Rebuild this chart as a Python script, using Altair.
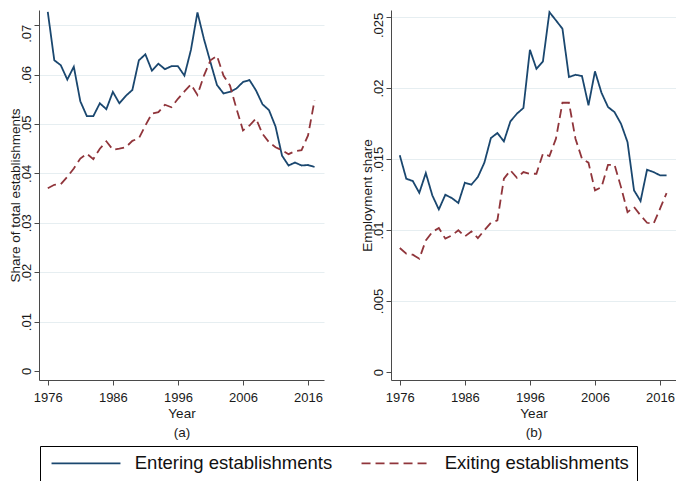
import altair as alt
import pandas as pd

# Anos da serie
years = list(range(1976, 2018))

# (a) participacao no total de estabelecimentos
entering_estab = [0.0727, 0.0629, 0.0619, 0.0590, 0.0616, 0.0546, 0.0516, 0.0516, 0.0542, 0.0530,
                  0.0565, 0.0542, 0.0557, 0.0569, 0.0629, 0.0641, 0.0608, 0.0622, 0.0611, 0.0617,
                  0.0617, 0.0598, 0.0650, 0.0726, 0.0672, 0.0625, 0.0579, 0.0562, 0.0565, 0.0572,
                  0.0585, 0.0589, 0.0568, 0.0540, 0.0528, 0.0495, 0.0436, 0.0416, 0.0422, 0.0416,
                  0.0417, 0.0413]
exiting_estab = [0.0370, 0.0377, 0.0378, 0.0393, 0.0410, 0.0430, 0.0440, 0.0429, 0.0450, 0.0465,
                 0.0448, 0.0450, 0.0453, 0.0466, 0.0471, 0.0497, 0.0521, 0.0524, 0.0539, 0.0534,
                 0.0551, 0.0566, 0.0580, 0.0559, 0.0598, 0.0629, 0.0638, 0.0598, 0.0578, 0.0531,
                 0.0487, 0.0497, 0.0511, 0.0480, 0.0463, 0.0453, 0.0447, 0.0439, 0.0445, 0.0447,
                 0.0477, 0.0548]

# (b) participacao no emprego
entering_emp = [0.01526, 0.01361, 0.01345, 0.01262, 0.01401, 0.01244, 0.01145, 0.01248, 0.01225, 0.01190,
                0.01333, 0.01319, 0.01373, 0.01474, 0.01647, 0.01683, 0.01624, 0.01765, 0.01819, 0.01859,
                0.02269, 0.02135, 0.02187, 0.02534, 0.02476, 0.02417, 0.02077, 0.02093, 0.02084, 0.01878,
                0.02117, 0.01966, 0.01866, 0.01830, 0.01748, 0.01619, 0.01279, 0.01204, 0.01424, 0.01408,
                0.01385, 0.01385]
exiting_emp = [0.00873, 0.00833, 0.00826, 0.00798, 0.00927, 0.00986, 0.01014, 0.00939, 0.00962, 0.00998,
               0.00955, 0.00990, 0.00943, 0.00998, 0.01051, 0.01068, 0.01361, 0.01420, 0.01368, 0.01408,
               0.01396, 0.01396, 0.01537, 0.01521, 0.01643, 0.01896, 0.01896, 0.01643, 0.01502, 0.01474,
               0.01279, 0.01302, 0.01459, 0.01459, 0.01302, 0.01126, 0.01162, 0.01103, 0.01051, 0.01044,
               0.01150, 0.01260]

x_ticks = [1976, 1986, 1996, 2006, 2016]
y_ticks_a = [0, 0.01, 0.02, 0.03, 0.04, 0.05, 0.06, 0.07]
y_ticks_b = [0, 0.005, 0.01, 0.015, 0.02, 0.025]

series_names = ["Entering establishments", "Exiting establishments"]
series_colors = ["#1a476f", "#90353b"]
series_dash = [[1, 0], [9, 5]]

FONTE = "Liberation Sans"
COR_EIXO = "#4a4a4a"


def tabela(entering, exiting):
    return pd.DataFrame({
        "Year": years * 2,
        "value": entering + exiting,
        "series": [series_names[0]] * len(years) + [series_names[1]] * len(years),
    })


# Legenda unica em caixa, embaixo (simbolo = traco horizontal longo)
legenda = alt.Legend(title=None, orient="none", legendX=1, legendY=436,
                     direction="horizontal", strokeColor="black", padding=8,
                     symbolType="M-6,0H6", symbolSize=132, symbolStrokeWidth=1.8,
                     symbolOffset=28.75,
                     labelFontSize=18.5, labelFont=FONTE, labelColor="#111111",
                     labelOffset=39.5, columnPadding=24, labelLimit=400)


def painel(df, titulo_y, dominio_y, ticks_y, letra, topo):
    return alt.Chart(df).mark_line(strokeWidth=1.8, strokeCap="butt").encode(
        x=alt.X("Year:Q",
                scale=alt.Scale(domain=[1974.65, 2018.45], nice=False, zero=False),
                axis=alt.Axis(values=x_ticks, format="d", title=["Year", letra],
                              grid=False, titleLineHeight=19, labelPadding=6,
                              titlePadding=2)),
        y=alt.Y("value:Q",
                scale=alt.Scale(domain=dominio_y, nice=False, zero=False),
                axis=alt.Axis(values=ticks_y, title=titulo_y, labelAngle=270,
                              labelAlign="center", labelBaseline="bottom",
                              labelExpr="datum.value == 0 ? '0' : substring(format(datum.value, '.3~f'), 1)",
                              # rotulo do topo desce um pouco para caber na pagina
                              labelOffset={"condition": {"test": f"datum.value == {topo}", "value": 8}, "value": 0},
                              gridOpacity={"condition": {"test": "datum.value == 0", "value": 0}, "value": 1},
                              labelPadding=1, titlePadding=-2)),
        color=alt.Color("series:N", scale=alt.Scale(domain=series_names, range=series_colors),
                        legend=legenda),
        strokeDash=alt.StrokeDash("series:N", scale=alt.Scale(domain=series_names, range=series_dash),
                                  legend=legenda),
    ).properties(width=285, height=370)


painel_a = painel(tabela(entering_estab, exiting_estab), "Share of total establishments",
                  [-0.00182, 0.07308], y_ticks_a, "(a)", 0.07)
painel_b = painel(tabela(entering_emp, exiting_emp), "Employment share",
                  [-0.00056, 0.02549], y_ticks_b, "(b)", 0.025)

chart = alt.hconcat(painel_a, painel_b, spacing=35).properties(
    padding=0, background="white"
).configure_axis(
    labelFont=FONTE, titleFont=FONTE, labelFontSize=13, titleFontSize=13.5,
    titleFontWeight="normal", labelColor="#1a1a1a", titleColor="#1a1a1a",
    domainColor=COR_EIXO, tickColor=COR_EIXO, tickSize=5, domainWidth=1,
    gridColor="#e6eef1", gridWidth=1
).configure_view(
    stroke=None
)

chart.save("out.html", embed_options={"renderer": "svg", "actions": False})
